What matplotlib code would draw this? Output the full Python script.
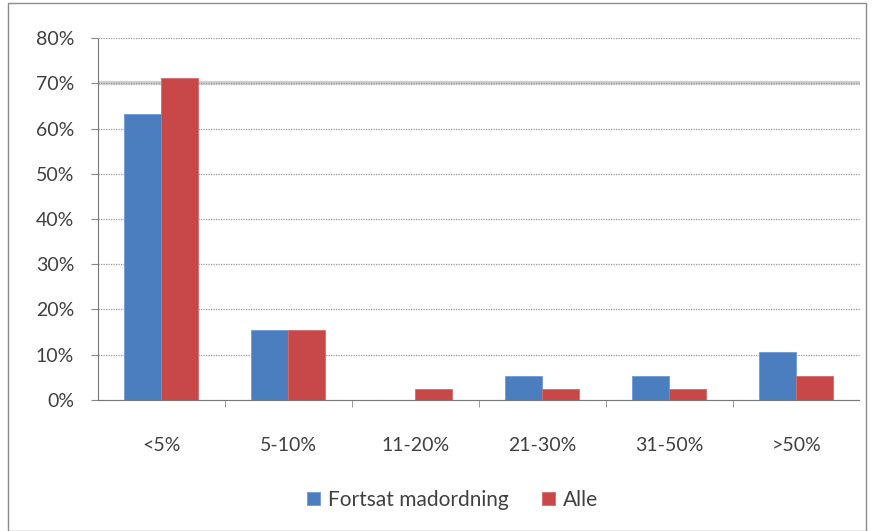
import matplotlib
matplotlib.use("Agg")
import matplotlib.pyplot as plt
import numpy as np
from matplotlib.patches import Rectangle

categories = ["<5%", "5-10%", "11-20%", "21-30%", "31-50%", ">50%"]
fortsat = [63.2, 15.5, 0.0, 5.2, 5.2, 10.5]
alle = [71.1, 15.5, 2.5, 2.5, 2.5, 5.2]
series_names = ["Fortsat madordning", "Alle"]

plt.rcParams["font.family"] = ["Lato", "DejaVu Sans"]

fig = plt.figure(figsize=(8.72, 5.31), dpi=100)
ax = fig.add_axes([0.112, 0.247, 0.874, 0.681])

x = np.arange(len(categories))
w = 0.29
ax.bar(x - w / 2, fortsat, w, color="#4a7ebf", edgecolor="#6f9ad6", linewidth=0.6,
       label=series_names[0], zorder=3)
ax.bar(x + w / 2, alle, w, color="#c8484a", edgecolor="#d66a6a", linewidth=0.6,
       label=series_names[1], zorder=3)

ax.set_xlim(-0.5, len(categories) - 0.5)
ax.set_ylim(0, 80)
ax.set_yticks(np.arange(0, 81, 10))
ax.set_yticklabels([f"{v}%" for v in range(0, 81, 10)])
ax.yaxis.grid(True, color="#9a9a9a", linestyle=(0, (1, 1)), linewidth=0.9, zorder=1)
# the 70% line looks heavier in the original
ax.axhline(70, color="#cfcfcf", linewidth=3, zorder=0.5)

ax.set_xticks(x)
ax.set_xticklabels(categories)
ax.set_xticks(np.arange(0.5, len(categories) - 0.5, 1), minor=True)
ax.tick_params(axis="x", which="major", length=0, pad=27)
ax.tick_params(axis="x", which="minor", length=5, color="#888888", direction="out")
ax.tick_params(axis="y", length=5, color="#888888", pad=12)
ax.tick_params(labelsize=14, labelcolor="#404040")

for s in ["top", "right"]:
    ax.spines[s].set_visible(False)
ax.spines["left"].set_linestyle((0, (1, 1)))
ax.spines["left"].set_color("#777777")
ax.spines["bottom"].set_linestyle((0, (1, 1)))
ax.spines["bottom"].set_color("#777777")

leg = fig.legend(loc="center", bbox_to_anchor=(0.519, 0.058), ncol=2, frameon=False,
                 fontsize=15, handlelength=0.6, handleheight=0.6, columnspacing=1.6,
                 handletextpad=0.4)
for t in leg.get_texts():
    t.set_color("#404040")

fig.patches.append(Rectangle((0.009, 0.0), 0.984, 0.995, transform=fig.transFigure,
                             fill=False, edgecolor="#8c8c8c", linewidth=1.0))

fig.savefig("out.png", dpi=100)
